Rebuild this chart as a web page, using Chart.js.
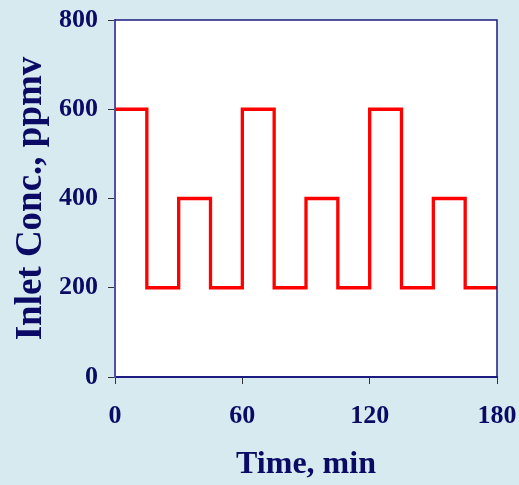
<!DOCTYPE html>
<html>
<head>
<meta charset="utf-8">
<title>Inlet concentration profile</title>
<script src="https://cdn.jsdelivr.net/npm/chart.js@4/dist/chart.umd.min.js"></script>
<style>
  html, body { margin: 0; padding: 0; background: #d6eaef; }
  canvas { display: block; }
</style>
</head>
<body>
<canvas id="chart" width="519" height="485"></canvas>
<script>
// Step changes of the inlet concentration (ppmv) over the run (min)
const times = [0, 15, 30, 45, 60, 75, 90, 105, 120, 135, 150, 165, 180];
const inletConc = [600, 200, 400, 200, 600, 200, 400, 200, 600, 200, 400, 200, 200];
const timeTicks = [0, 60, 120, 180];
const concTicks = [0, 200, 400, 600, 800];

const navy = '#0b0b66';
const serif = "'Liberation Serif', 'Times New Roman', serif";

// Light blue page, white plotting area and a thin frame around it
const backdrop = {
  id: 'backdrop',
  beforeDraw(chart) {
    const { ctx, chartArea: a } = chart;
    ctx.save();
    ctx.fillStyle = '#d6eaef';
    ctx.fillRect(0, 0, chart.width, chart.height);
    ctx.fillStyle = '#ffffff';
    ctx.fillRect(a.left, a.top, a.right - a.left, a.bottom - a.top);
    ctx.restore();
  },
  afterDatasetsDraw(chart) {
    const { ctx, chartArea: a } = chart;
    ctx.save();
    ctx.strokeStyle = '#1c1c80';
    ctx.lineWidth = 1.5;
    ctx.beginPath();
    ctx.moveTo(a.left, a.top);
    ctx.lineTo(a.right, a.top);
    ctx.lineTo(a.right, a.bottom);
    ctx.stroke();
    ctx.restore();
  }
};

new Chart(document.getElementById('chart'), {
  type: 'line',
  data: {
    datasets: [{
      data: times.map((t, i) => ({ x: t, y: inletConc[i] })),
      borderColor: '#ff0000',
      borderWidth: 3.3,
      pointRadius: 0,
      fill: false,
      stepped: 'before'
    }]
  },
  options: {
    responsive: false,
    animation: false,
    layout: { padding: { top: 20, right: 22, left: 0, bottom: 0 } },
    plugins: { legend: { display: false }, tooltip: { enabled: false } },
    scales: {
      x: {
        type: 'linear',
        min: 0,
        max: 180,
        afterBuildTicks(scale) { scale.ticks = timeTicks.map(v => ({ value: v })); },
        afterFit(scale) { scale.height = 108; scale.paddingLeft = 0; scale.paddingRight = 0; },
        grid: { drawOnChartArea: false, drawTicks: true, tickLength: 7, tickColor: '#333333', color: '#333333' },
        border: { color: '#1c1c80', width: 2 },
        ticks: { color: navy, font: { family: serif, size: 26, weight: 'bold' }, padding: 17, maxRotation: 0 },
        title: { display: true, text: 'Time, min', color: navy, font: { family: serif, size: 32, weight: 'bold' }, padding: { top: 0, bottom: 1 } }
      },
      y: {
        min: 0,
        max: 800,
        afterBuildTicks(scale) { scale.ticks = concTicks.map(v => ({ value: v })); },
        afterFit(scale) { scale.width = 115; scale.paddingTop = 0; scale.paddingBottom = 0; },
        grid: { drawOnChartArea: false, drawTicks: true, tickLength: 7, tickColor: '#333333', color: '#333333' },
        border: { color: '#5050a8', width: 2 },
        ticks: { color: navy, font: { family: serif, size: 26, weight: 'bold' }, padding: 10 },
        title: { display: true, text: 'Inlet Conc., ppmv', color: navy, font: { family: serif, size: 37, weight: 'bold' }, padding: { top: 9, bottom: 0 } }
      }
    }
  },
  plugins: [backdrop]
});
</script>
</body>
</html>
